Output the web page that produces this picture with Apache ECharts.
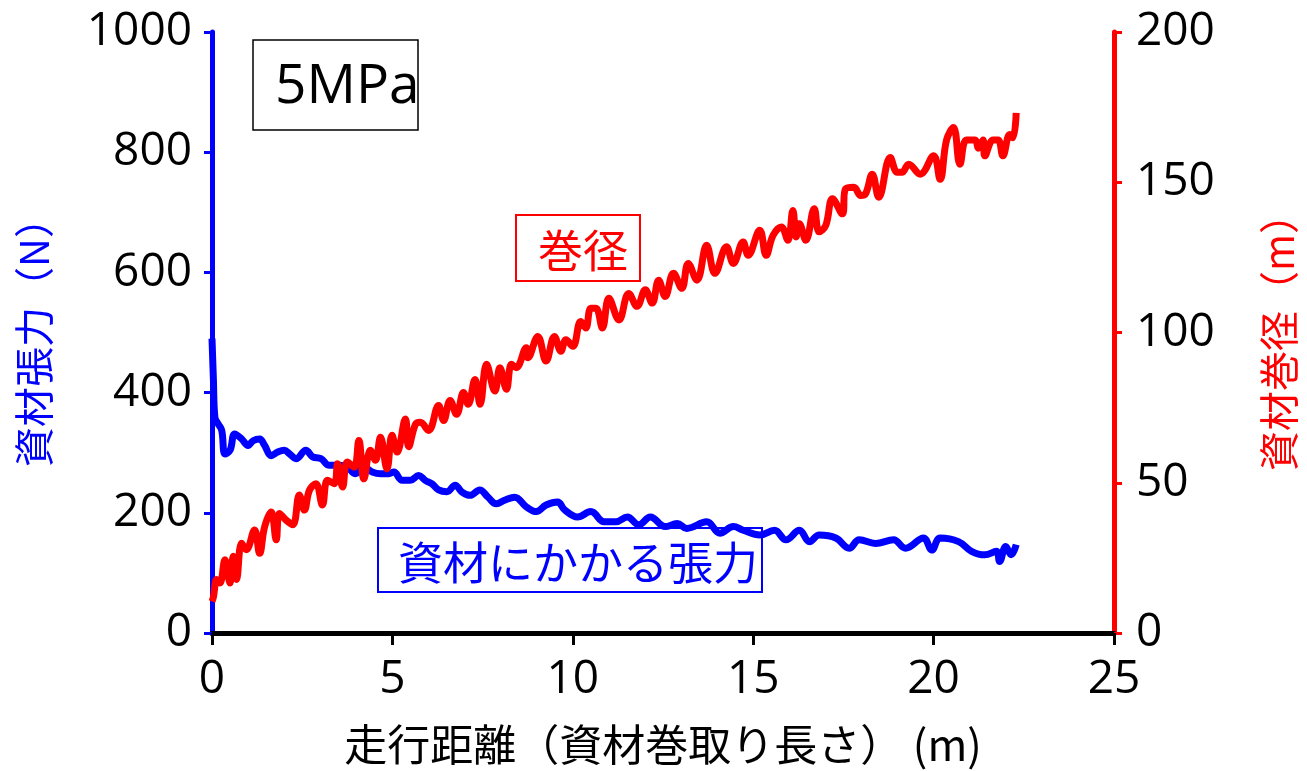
<!DOCTYPE html>
<html>
<head>
<meta charset="utf-8">
<title>5MPa</title>
<script src="https://cdn.jsdelivr.net/npm/echarts@6/dist/echarts.min.js"></script>
<style>
  html, body { margin: 0; padding: 0; background: #fff; }
  #chart { width: 1307px; height: 771px; }
</style>
</head>
<body>
<div id="chart"></div>
<script>
// 資材張力 (N) - 走行距離 (m)
let tensionX = [0, 0.04, 0.08, 0.17, 0.27, 0.36, 0.5, 0.63, 0.82, 1.0, 1.14, 1.32, 1.46, 1.64, 1.82, 2.0, 2.15, 2.33, 2.6, 2.79,
    3.02, 3.25, 3.52, 3.75, 3.98, 4.21, 4.44, 4.67, 4.9, 5.04, 5.27, 5.5, 5.73, 5.91, 6.1, 6.28, 6.51, 6.74, 6.92, 7.15,
    7.42, 7.65, 7.88, 8.11, 8.39, 8.71, 8.99, 9.26, 9.58, 9.77, 10.13, 10.5, 10.87, 11.19, 11.51, 11.83, 12.15, 12.56, 12.89, 13.16,
    13.71, 14.08, 14.45, 14.72, 15.18, 15.59, 15.91, 16.28, 16.56, 16.83, 17.29, 17.66, 17.94, 18.39, 18.89, 19.22, 19.72, 19.95, 20.18, 20.69,
    21.05, 21.42, 21.74, 21.83, 22.0, 22.15, 22.29];
let tensionN = [490, 420, 359, 348, 337, 298, 304, 331, 323, 312, 320, 323, 312, 295, 301, 304, 298, 290, 304, 293,
    290, 279, 279, 276, 265, 276, 268, 265, 265, 268, 254, 254, 262, 254, 248, 238, 235, 246, 235, 229,
    238, 226, 215, 221, 226, 210, 202, 213, 218, 205, 193, 202, 185, 185, 193, 180, 193, 177, 182, 174,
    185, 166, 177, 171, 163, 171, 155, 171, 152, 163, 158, 141, 155, 149, 155, 141, 158, 138, 158, 152,
    136, 130, 136, 119, 144, 130, 147];

// 資材巻径 (m) - 走行距離 (m)
let diaX = [0, 0.04, 0.13, 0.22, 0.36, 0.5, 0.59, 0.68, 0.82, 0.95, 1.18, 1.32, 1.46, 1.64, 1.78, 1.87, 2.05, 2.24, 2.42, 2.56,
    2.7, 2.88, 3.06, 3.2, 3.39, 3.48, 3.62, 3.75, 3.94, 4.07, 4.21, 4.39, 4.53, 4.67, 4.85, 4.99, 5.13, 5.36, 5.45, 5.64,
    5.77, 6.0, 6.28, 6.42, 6.6, 6.78, 6.97, 7.1, 7.29, 7.43, 7.61, 7.84, 7.98, 8.16, 8.3, 8.43, 8.71, 8.76, 9.03, 9.26,
    9.49, 9.67, 9.81, 10.0, 10.22, 10.36, 10.5, 10.64, 10.82, 11.0, 11.28, 11.55, 11.78, 12.01, 12.2, 12.38, 12.56, 12.79, 13.02, 13.2,
    13.44, 13.71, 13.94, 14.26, 14.45, 14.72, 14.86, 15.18, 15.36, 15.55, 15.78, 15.96, 16.1, 16.19, 16.28, 16.46, 16.69, 16.83, 17.01, 17.2,
    17.47, 17.56, 17.79, 17.98, 18.11, 18.3, 18.48, 18.8, 18.99, 19.12, 19.31, 19.63, 20.0, 20.18, 20.36, 20.55, 20.73, 20.91, 21.15, 21.24,
    21.37, 21.42, 21.65, 21.79, 21.92, 22.11, 22.2, 22.29];
let diaD = [10.5, 12, 17.8, 16.6, 24.4, 16.6, 25.5, 17.8, 29.9, 27.7, 34.3, 26.5, 35.4, 40.3, 31, 39.8, 37.6, 36, 45.9, 40.9,
    47.5, 49.7, 42.6, 50.8, 49.7, 56.3, 48.6, 56.9, 55.2, 64.1, 51.3, 60.8, 57.5, 65.1, 54.6, 65.8, 60.2, 71.2, 62, 69.5,
    70.1, 67.4, 75.7, 70.7, 77.4, 72.8, 80, 76.1, 84.4, 76.1, 89.4, 80.5, 88.3, 81.1, 89.4, 88.3, 94.9, 91.6, 98.7, 90.5,
    98.7, 93.8, 97.6, 95.4, 103.7, 101.5, 108.1, 108.1, 101.5, 111.4, 104.2, 113, 108.7, 114.2, 109.8, 117.4, 112, 119.7, 114.7, 123,
    117.4, 129, 119.7, 128.5, 123, 130.1, 125.7, 134, 125.7, 132.3, 135.1, 130.7, 140.6, 131.8, 136.2, 130.7, 141.2, 133.5, 135.6, 144.5,
    139.5, 147.8, 148.3, 145.6, 146.1, 152.7, 145, 158.2, 153.3, 153.3, 156, 152.7, 158.8, 151, 164.1, 168.2, 156, 164.1, 164.1, 161.3,
    164.1, 158.8, 164.1, 164.1, 158.8, 165.9, 164.8, 173.1];

let xTicks = [0, 25, 5];
let leftTicks = [0, 1000, 200];
let rightTicks = [0, 200, 50];

const numFont = "'Open Sans', 'Liberation Sans', sans-serif";
const cjkFont = "'Noto Sans CJK JP', 'Noto Sans', sans-serif";

function pairs(xs, ys) {
    let out = [];
    for (let i = 0; i < xs.length && i < ys.length; i++) {
        out.push([xs[i], ys[i]]);
    }
    return out;
}

function plain(v) {
    return String(v);
}

let chart = echarts.init(document.getElementById("chart"), null, {renderer: 'canvas'});
chart.setOption({
    animation: false,
    backgroundColor: '#fff',
    grid: {
        left: 212,
        right: 187,
        top: 32,
        bottom: 134,
        containLabel: false
    },
    xAxis: {
        type: 'value',
        min: xTicks[0],
        max: xTicks[1],
        interval: xTicks[2],
        name: '走行距離（資材巻取り長さ） (m)',
        nameLocation: 'middle',
        nameGap: 90,
        nameTextStyle: {color: '#000', fontSize: 43, fontFamily: cjkFont},
        axisLine: {show: true, lineStyle: {color: '#000', width: 5}},
        axisTick: {show: true, inside: false, length: 12, lineStyle: {color: '#000', width: 3}},
        axisLabel: {color: '#000', fontSize: 46, fontFamily: numFont, margin: 24, formatter: plain},
        splitLine: {show: false}
    },
    yAxis: [
        {
            type: 'value',
            min: leftTicks[0],
            max: leftTicks[1],
            interval: leftTicks[2],
            position: 'left',
            name: '資材張力（N）',
            nameLocation: 'middle',
            nameRotate: 90,
            nameGap: 158,
            nameTextStyle: {color: '#0000ff', fontSize: 40, fontFamily: cjkFont},
            axisLine: {show: true, lineStyle: {color: '#0000ff', width: 5}},
            axisTick: {show: true, inside: false, length: 8, lineStyle: {color: '#0000ff', width: 3}},
            axisLabel: {color: '#000', fontSize: 46, fontFamily: numFont, margin: 20, formatter: plain},
            splitLine: {show: false}
        },
        {
            type: 'value',
            min: rightTicks[0],
            max: rightTicks[1],
            interval: rightTicks[2],
            position: 'right',
            name: '資材巻径（m）',
            nameLocation: 'middle',
            nameRotate: 90,
            nameGap: 145,
            nameTextStyle: {color: '#ff0000', fontSize: 40, fontFamily: cjkFont},
            axisLine: {show: true, lineStyle: {color: '#ff0000', width: 5}},
            axisTick: {show: true, inside: false, length: 8, lineStyle: {color: '#ff0000', width: 3}},
            axisLabel: {color: '#000', fontSize: 46, fontFamily: numFont, margin: 22, formatter: plain},
            splitLine: {show: false}
        }
    ],
    series: [
        {
            name: '資材にかかる張力',
            type: 'line',
            yAxisIndex: 0,
            data: pairs(tensionX, tensionN),
            smooth: 0.4,
            showSymbol: false,
            lineStyle: {color: '#0000ff', width: 7}
        },
        {
            name: '巻径',
            type: 'line',
            yAxisIndex: 1,
            data: pairs(diaX, diaD),
            smooth: 0.4,
            showSymbol: false,
            lineStyle: {color: '#ff0000', width: 7}
        }
    ],
    graphic: [
        {type: 'rect', shape: {x: 253, y: 40, width: 165, height: 90},
            style: {fill: 'none', stroke: '#000', lineWidth: 1.5}},
        {type: 'text', x: 275, y: 87,
            style: {text: '5MPa', fill: '#000', font: "55px 'Open Sans', sans-serif", verticalAlign: 'middle'}},
        {type: 'rect', shape: {x: 516, y: 215, width: 124, height: 66},
            style: {fill: 'none', stroke: '#ff0000', lineWidth: 2}},
        {type: 'text', x: 583, y: 251,
            style: {text: '巻径', fill: '#ff0000', font: "45px 'Noto Sans CJK JP', sans-serif", align: 'center', verticalAlign: 'middle'}},
        {type: 'rect', shape: {x: 378, y: 528, width: 384, height: 64},
            style: {fill: 'none', stroke: '#0000ff', lineWidth: 2}},
        {type: 'text', x: 398, y: 563,
            style: {text: '資材にかかる張力', fill: '#0000ff', font: "45px 'Noto Sans CJK JP', sans-serif", verticalAlign: 'middle'}}
    ]
});
</script>
</body>
</html>
